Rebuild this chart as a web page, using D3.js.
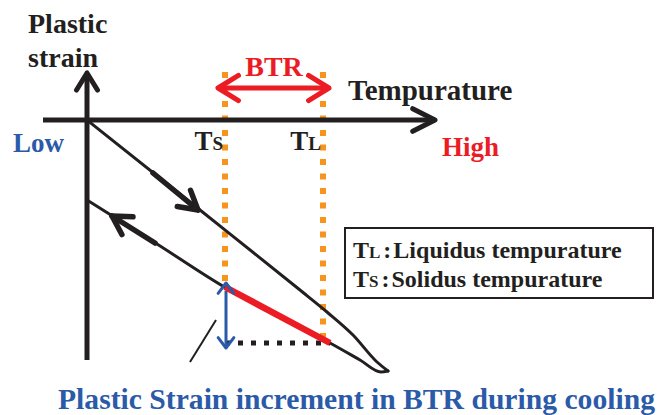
<!DOCTYPE html>
<html>
<head>
<meta charset="utf-8">
<script src="https://cdn.jsdelivr.net/npm/d3@7"></script>
<style>
  html, body { margin: 0; padding: 0; background: #fff; }
  svg { display: block; }
  text { font-family: "Liberation Serif", "Times New Roman", serif; font-weight: bold; }
</style>
</head>
<body>
<div id="chart"></div>
<script>
// Schematic values (temperature units, strain units)
// heating branch of the hysteresis loop (origin -> tip)
const heatTemp   = [0, 113, 213, 240, 266, 290, 301];
const heatStrain = [0, -90, -170, -192, -215, -242, -251];
// cooling branch (back from the tip, listed by rising temperature)
const coolTemp   = [0, 70, 139, 191, 243, 273, 294, 301];
const coolStrain = [-80, -124, -168, -196, -223, -240, -252, -251];

const solidusT = 138;   // Ts
const liquidusT = 236;  // TL

// plastic strain increment inside BTR (lower branch, cooling)
const btrTemp   = [138, 243];
const btrStrain = [-167, -223];

// direction arrows on the loop: [tail, tip] pairs
const heatArrowTemp   = [66, 111];
const heatArrowStrain = [-53, -90];
const coolArrowTemp   = [68, 25];
const coolArrowStrain = [-123, -96];

const legendLines = [
  { main: "T", sub: "L", desc: "Liquidus tempurature" },
  { main: "T", sub: "S", desc: "Solidus tempurature" }
];

const width = 659, height = 415;
const black = '#231f20', red = '#ec1c24', blue = '#2b5ba8', orange = '#f7941d';

const x = d3.scaleLinear().domain([0, 350]).range([87, 437]);
const y = d3.scaleLinear().domain([0, -250]).range([120, 370]);

const svg = d3.select('#chart').append('svg')
    .attr('width', width)
    .attr('height', height);

// chevron arrow head, angle = direction of travel (radians)
function chevron(px, py, angle, len, spread, color, w) {
    const back = angle + Math.PI;
    const pts = [
        [px + len * Math.cos(back - spread), py + len * Math.sin(back - spread)],
        [px, py],
        [px + len * Math.cos(back + spread), py + len * Math.sin(back + spread)]
    ];
    svg.append('path')
        .attr('d', d3.line()(pts))
        .attr('fill', 'none')
        .attr('stroke', color)
        .attr('stroke-width', w)
        .attr('stroke-linecap', 'round')
        .attr('stroke-linejoin', 'round');
}

function seg(x1, y1, x2, y2, color, w, dash) {
    const l = svg.append('line')
        .attr('x1', x1).attr('y1', y1)
        .attr('x2', x2).attr('y2', y2)
        .attr('stroke', color)
        .attr('stroke-width', w);
    if (dash) l.attr('stroke-dasharray', dash);
    return l;
}

// orange dotted Ts / TL lines
seg(x(solidusT), y(48), x(solidusT), y(btrStrain[0]), orange, 6, '6,8.5');
seg(x(liquidusT), y(48), x(liquidusT), y(-220), orange, 6, '6,8.5');

// axes
seg(x(-44), y(0), x(346), y(0), black, 5);
chevron(x(348), y(0), 0, 25, 0.47, black, 5);
seg(x(0), y(-240), x(0), y(45), black, 5);
chevron(x(0), y(47), -Math.PI / 2, 20, 0.55, black, 5);

// hysteresis loop, both branches
const branch = d3.line()
    .x(d => x(d[0]))
    .y(d => y(d[1]))
    .curve(d3.curveMonotoneX);
[[heatTemp, heatStrain], [coolTemp, coolStrain]].forEach(([ts, ss]) => {
    svg.append('path')
        .attr('d', branch(ts.map((t, i) => [t, ss[i]])))
        .attr('fill', 'none')
        .attr('stroke', black)
        .attr('stroke-width', 3)
        .attr('stroke-linecap', 'round');
});

// direction arrows
function loopArrow(ts, ss) {
    const x1 = x(ts[0]), y1 = y(ss[0]), x2 = x(ts[1]), y2 = y(ss[1]);
    seg(x1, y1, x2, y2, black, 5.5).attr('stroke-linecap', 'round');
    chevron(x2, y2, Math.atan2(y2 - y1, x2 - x1), 21, 0.52, black, 5.5);
}
loopArrow(heatArrowTemp, heatArrowStrain);
loopArrow(coolArrowTemp, coolArrowStrain);

// black dotted horizontal
seg(x(btrTemp[0]), y(btrStrain[1]), x(btrTemp[1]), y(btrStrain[1]), black, 5, '5,8');

// red strain increment in BTR
seg(x(btrTemp[0]), y(btrStrain[0]), x(btrTemp[1]), y(btrStrain[1]), red, 6.5);

// blue double arrow
const bx = x(btrTemp[0]) + 1;
seg(bx, y(btrStrain[0]) + 4, bx, y(-228) - 2, blue, 3);
chevron(bx, y(-163), -Math.PI / 2, 13, 0.65, blue, 3);
chevron(bx, y(-228), Math.PI / 2, 13, 0.65, blue, 3);

// leader line
seg(x(103), y(-242), x(129), y(-200), black, 2);

// BTR arrow
seg(x(133), y(32), x(240), y(32), red, 5);
chevron(x(131), y(32), Math.PI, 24, 0.55, red, 5);
chevron(x(242), y(32), 0, 24, 0.55, red, 5);
svg.append('text')
    .attr('x', (x(solidusT) + x(liquidusT)) / 2)
    .attr('y', 76)
    .attr('text-anchor', 'middle')
    .attr('font-size', 28)
    .attr('fill', red)
    .text('BTR');

// labels
function label(tx, ty, txt, size, color, anchor) {
    return svg.append('text')
        .attr('x', tx).attr('y', ty)
        .attr('font-size', size)
        .attr('fill', color)
        .attr('text-anchor', anchor || 'start')
        .text(txt);
}
label(28, 33, 'Plastic', 28, black);
label(28, 67, 'strain', 28, black);
label(348, 100, 'Tempurature', 29, black);
label(13, 152, 'Low', 27, blue);
label(442, 156, 'High', 27, red);
label(58, 409, 'Plastic Strain increment in BTR during cooling', 29, blue)
    .attr('textLength', 597).attr('lengthAdjust', 'spacingAndGlyphs');

// Ts / TL under the axis
[[solidusT, 'S'], [liquidusT, 'L']].forEach(([t, s]) => {
    const tt = svg.append('text')
        .attr('x', x(t) - 2).attr('y', 150)
        .attr('text-anchor', 'end')
        .attr('fill', black);
    tt.append('tspan').attr('font-size', 27).text('T');
    tt.append('tspan').attr('font-size', 19).text(s);
});

// legend box
svg.append('rect')
    .attr('x', 345).attr('y', 228)
    .attr('width', 308).attr('height', 70)
    .attr('fill', '#fff')
    .attr('stroke', black)
    .attr('stroke-width', 2);
legendLines.forEach((d, i) => {
    const tt = svg.append('text')
        .attr('x', 353).attr('y', 258 + i * 29)
        .attr('fill', black);
    tt.append('tspan').attr('font-size', 24).text(d.main);
    tt.append('tspan').attr('font-size', 17).text(d.sub);
    tt.append('tspan').attr('font-size', 24).attr('dx', 3).text(':');
    tt.append('tspan').attr('font-size', 24).attr('dx', 2).text(d.desc);
});
</script>
</body>
</html>
